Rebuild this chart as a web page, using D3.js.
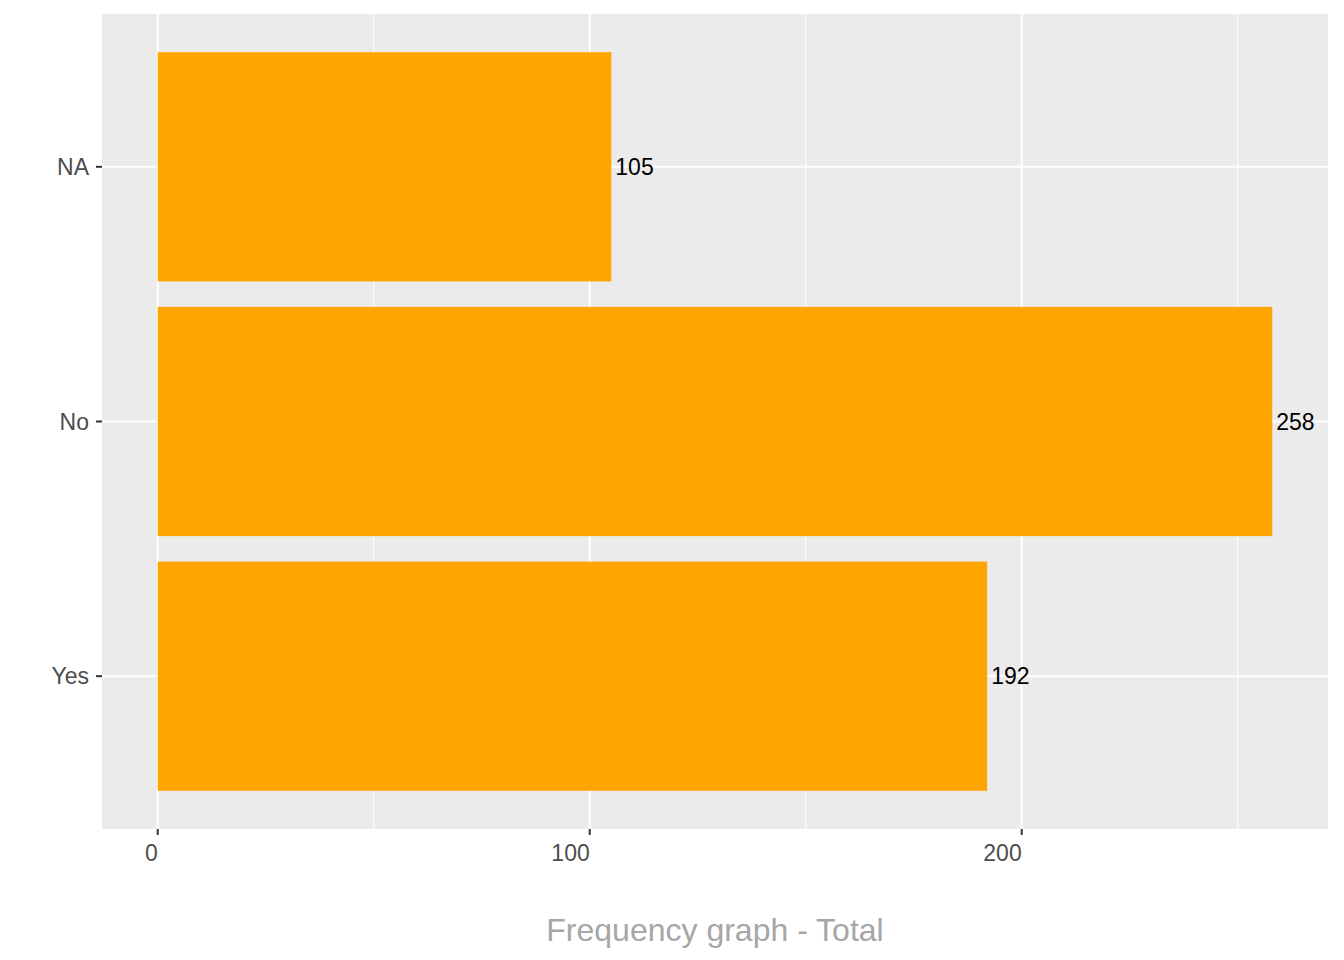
<!DOCTYPE html>
<html><head><meta charset="utf-8">
<script src="https://cdn.jsdelivr.net/npm/d3@7"></script>
<style>body{margin:0;background:#fff;} text{font-family:"Liberation Sans",Arial,sans-serif;}</style>
</head><body>
<svg id="c" width="1344" height="960"></svg>
<script>
const categories = ["NA", "No", "Yes"];
const counts = [105, 258, 192];
const xTicks = [0, 100, 200];
const xMinor = [50, 150, 250];
const xTitle = "Frequency graph - Total";

const svg = d3.select("#c");
const L = 102, R = 1328, T = 14, B = 829;
const maxV = d3.max(counts);
const x = d3.scaleLinear().domain([-0.05 * maxV, maxV * 1.05]).range([L, R]);
// ggplot discrete expand: 0.6 units each side, bar width 0.9
const n = categories.length;
const y = d3.scalePoint().domain(categories).range([T, B]).padding(0.6);
const unit = y.step();

svg.append("rect").attr("x", L).attr("y", T).attr("width", R - L).attr("height", B - T).attr("fill", "#EBEBEB");

const g = svg.append("g");
g.selectAll(".minor").data(xMinor).enter().append("line")
  .attr("x1", d => x(d)).attr("x2", d => x(d)).attr("y1", T).attr("y2", B)
  .attr("stroke", "#fff").attr("stroke-width", 1);
g.selectAll(".major").data(xTicks).enter().append("line")
  .attr("x1", d => x(d)).attr("x2", d => x(d)).attr("y1", T).attr("y2", B)
  .attr("stroke", "#fff").attr("stroke-width", 2);
g.selectAll(".hmajor").data(categories).enter().append("line")
  .attr("x1", L).attr("x2", R).attr("y1", d => y(d)).attr("y2", d => y(d))
  .attr("stroke", "#fff").attr("stroke-width", 2);

svg.selectAll(".bar").data(categories).enter().append("rect")
  .attr("x", x(0)).attr("y", d => y(d) - unit * 0.45)
  .attr("width", (d, i) => x(counts[i]) - x(0)).attr("height", unit * 0.9)
  .attr("fill", "#FFA500");

svg.selectAll(".lbl").data(categories).enter().append("text")
  .attr("x", (d, i) => x(counts[i]) + 4).attr("y", d => y(d))
  .attr("dy", "0.35em").attr("font-size", 23).attr("fill", "#000")
  .text((d, i) => counts[i]);

// y axis
svg.selectAll(".yt").data(categories).enter().append("line")
  .attr("x1", L - 6).attr("x2", L).attr("y1", d => y(d)).attr("y2", d => y(d))
  .attr("stroke", "#333").attr("stroke-width", 2);
svg.selectAll(".yl").data(categories).enter().append("text")
  .attr("x", L - 13).attr("y", d => y(d)).attr("dy", "0.35em")
  .attr("text-anchor", "end").attr("font-size", 23).attr("fill", "#4D4D4D").text(d => d);

// x axis
svg.selectAll(".xt").data(xTicks).enter().append("line")
  .attr("x1", d => x(d)).attr("x2", d => x(d)).attr("y1", B).attr("y2", B + 6)
  .attr("stroke", "#333").attr("stroke-width", 2);
svg.selectAll(".xl").data(xTicks).enter().append("text")
  .attr("x", d => x(d)).attr("y", 853).attr("dy", "0.35em")
  .attr("text-anchor", "end").attr("font-size", 23).attr("fill", "#4D4D4D").text(d => d);

svg.append("text").attr("x", (L + R) / 2).attr("y", 930).attr("dy", "0.35em")
  .attr("text-anchor", "middle").attr("font-size", 32).attr("fill", "#A6A6A6").text(xTitle);
</script>
</body></html>
